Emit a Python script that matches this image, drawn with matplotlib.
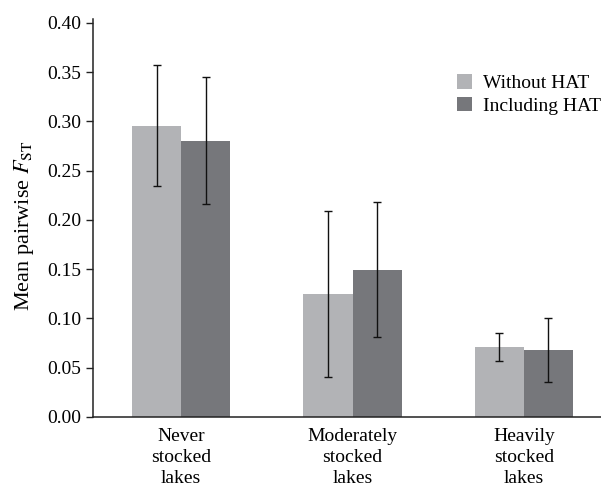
import numpy as np
import matplotlib.pyplot as plt

plt.rcParams['font.family'] = ['Liberation Serif', 'DejaVu Serif']
plt.rcParams['mathtext.fontset'] = 'stix'

groups = ['Never\nstocked\nlakes', 'Moderately\nstocked\nlakes', 'Heavily\nstocked\nlakes']
series = ['Without HAT', 'Including HAT']

without_mean = [0.295, 0.1245, 0.071]
without_low = [0.2345, 0.0403, 0.057]
without_high = [0.357, 0.209, 0.0853]

including_mean = [0.2805, 0.149, 0.068]
including_low = [0.216, 0.0815, 0.0352]
including_high = [0.3455, 0.218, 0.1005]

colors = ['#b2b3b6', '#76777b']


def draw_bars(ax, x, means, lows, highs, color, label):
    means = np.array(means)
    err = [means - np.array(lows), np.array(highs) - means]
    ax.bar(x, means, width=0.2865, color=color, label=label, zorder=2)
    ax.errorbar(x, means, yerr=err, fmt='none', ecolor='#111111',
                elinewidth=1.0, capsize=3, capthick=1.0, zorder=3)


fig = plt.figure(figsize=(6.01, 4.88), dpi=100)
ax = fig.add_axes([0.1547, 0.1455, 0.8453, 0.8156])

x = np.arange(len(groups))
w = 0.2865
draw_bars(ax, x - w / 2, without_mean, without_low, without_high, colors[0], series[0])
draw_bars(ax, x + w / 2, including_mean, including_low, including_high, colors[1], series[1])

ax.set_xlim(-0.515, 2.45)
ax.set_ylim(0, 0.404)
ax.set_yticks(np.arange(0, 0.41, 0.05))
ax.set_yticklabels([f'{v:.2f}' for v in np.arange(0, 0.41, 0.05)])
ax.set_xticks(x)
ax.set_xticklabels(groups, linespacing=1.3)
ax.tick_params(axis='x', length=0, labelsize=14, pad=8)
ax.tick_params(axis='y', length=5, width=1, labelsize=14, color='#222222')

for side in ['top', 'right']:
    ax.spines[side].set_visible(False)
for side in ['left', 'bottom']:
    ax.spines[side].set_linewidth(1.1)
    ax.spines[side].set_color('#222222')

ax.set_ylabel('Mean pairwise $F_{\\mathrm{ST}}$', fontsize=16)
ax.yaxis.set_label_coords(-0.112, 0.48)

ax.legend(loc='upper right', bbox_to_anchor=(1.035, 0.905), frameon=False,
          fontsize=14, handlelength=0.75, handleheight=0.75,
          handletextpad=0.6, labelspacing=0.25)

fig.savefig('out.png', dpi=100)
